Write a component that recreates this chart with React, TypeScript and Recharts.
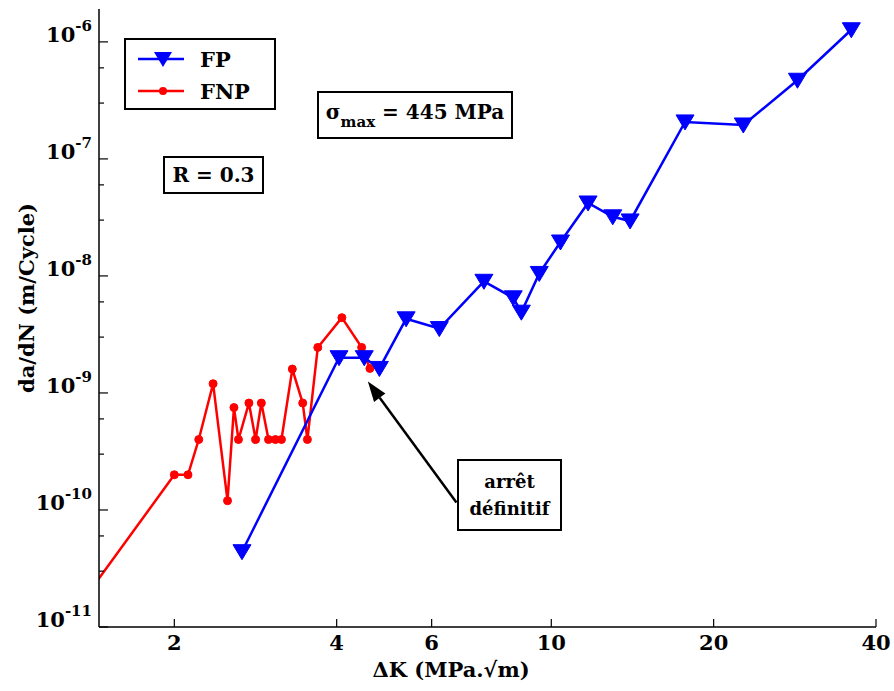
import React from 'react';
import { LineChart, Line, XAxis, YAxis, ReferenceLine } from 'recharts';

// FP series (blue, down triangles)
const fpK = [2.67, 4.04, 4.5, 4.8, 5.38, 6.2, 7.5, 8.5, 8.8, 9.5, 10.4, 11.7, 13.0, 14.0, 17.7, 22.7, 28.6, 36.0];
const fpRate = [4.4e-11, 2.0e-9, 2.0e-9, 1.62e-9, 4.3e-9, 3.55e-9, 9.0e-9, 6.5e-9, 4.9e-9, 1.05e-8, 1.95e-8, 4.2e-8, 3.2e-8, 2.95e-8, 2.07e-7, 1.95e-7, 4.7e-7, 1.27e-6];

// FNP series (red, dots) - first point lies just left of the visible range
const fnpK = [1.35, 2.0, 2.12, 2.22, 2.36, 2.51, 2.58, 2.63, 2.75, 2.83, 2.9, 2.99, 3.08, 3.16, 3.31, 3.46, 3.53, 3.69, 4.09, 4.45, 4.61];
const fnpRate = [1.65e-11, 2.0e-10, 2.0e-10, 4.0e-10, 1.2e-9, 1.2e-10, 7.5e-10, 4.0e-10, 8.2e-10, 4.0e-10, 8.2e-10, 4.0e-10, 4.0e-10, 4.0e-10, 1.6e-9, 8.2e-10, 4.0e-10, 2.45e-9, 4.4e-9, 2.45e-9, 1.62e-9];

const xTicks = [2, 4, 6, 10, 20, 40];
const yDecades = [-11, -10, -9, -8, -7, -6];
const xDomain = [1.45, 40];
const yDomain = [1e-11, 1.91e-6];

// annotation arrow: tail -> tip (data coords)
const arrowTail = { k: 6.67, r: 1.16e-10 };
const arrowTip = { k: 4.57, r: 1.25e-9 };

const fpData = fpK.map((x, i) => ({ x, y: fpRate[i] }));
const fnpData = fnpK.map((x, i) => ({ x, y: fnpRate[i] }));

const yTicks: number[] = [];
yDecades.forEach((d) => {
  for (let m = 1; m <= 9; m++) {
    const v = Number((m * Math.pow(10, d)).toPrecision(3));
    if (v <= yDomain[1]) yTicks.push(v);
  }
});

const W = 894;
const H = 691;
const PLOT = { left: 99, right: 876, top: 9, bottom: 627 };
const FONT = 'DejaVu Serif';
const FW = 'bold';

const isMajor = (v: number) => Math.abs(Math.log10(v) - Math.round(Math.log10(v))) < 1e-6;

const BottomTick = (props: any) => {
  const x = props.x;
  return (
    <g>
      <line x1={x} x2={x} y1={PLOT.bottom} y2={PLOT.bottom - 8} stroke="#000" strokeWidth={1.2} />
      <text x={x} y={PLOT.bottom + 23} textAnchor="middle" fontFamily={FONT} fontSize={21} fontWeight={FW} fill="#000">
        {props.payload.value}
      </text>
    </g>
  );
};

const TopTick = (props: any) => {
  const x = props.x;
  return <line x1={x} x2={x} y1={PLOT.top} y2={PLOT.top + 8} stroke="#000" strokeWidth={1.2} />;
};

const LeftTick = (props: any) => {
  const y = props.y;
  const v = props.payload.value;
  const major = isMajor(v);
  return (
    <g>
      <line x1={PLOT.left} x2={PLOT.left + (major ? 9 : 5)} y1={y} y2={y} stroke="#000" strokeWidth={1.2} />
      {major && (
        <text x={92} y={y} textAnchor="end" fontFamily={FONT} fontSize={21} fontWeight={FW} fill="#000">
          <tspan>10</tspan>
          <tspan dy={-11} fontSize={15}>{String(Math.round(Math.log10(v)))}</tspan>
        </text>
      )}
    </g>
  );
};

const RightTick = (props: any) => {
  const y = props.y;
  const major = isMajor(props.payload.value);
  return <line x1={PLOT.right} x2={PLOT.right - (major ? 9 : 5)} y1={y} y2={y} stroke="#000" strokeWidth={1.2} />;
};

const Triangle = (props: any) => {
  const { cx, cy } = props;
  if (cx == null || cy == null) return null;
  return <polygon points={`${cx - 9},${cy - 7} ${cx + 9},${cy - 7} ${cx},${cy + 8}`} fill="#0000ff" stroke="#0000ff" strokeWidth={1} />;
};

const Dot = (props: any) => {
  const { cx, cy } = props;
  if (cx == null || cy == null || cx < PLOT.left) return null;
  return <circle cx={cx} cy={cy} r={4} fill="#ff0000" stroke="#ff0000" />;
};

const Arrow = (props: any) => {
  const { x1, y1, x2, y2 } = props;
  if (x1 == null) return null;
  const ang = Math.atan2(y2 - y1, x2 - x1);
  const len = 20;
  const half = 7;
  const bx = x2 - len * Math.cos(ang);
  const by = y2 - len * Math.sin(ang);
  const px = -Math.sin(ang) * half;
  const py = Math.cos(ang) * half;
  return (
    <g>
      <line x1={x1} y1={y1} x2={bx} y2={by} stroke="#000" strokeWidth={2.5} />
      <polygon points={`${x2},${y2} ${bx + px},${by + py} ${bx - px},${by - py}`} fill="#000" />
    </g>
  );
};

const boxStyle: React.CSSProperties = {
  position: 'absolute',
  border: '2px solid #000',
  background: '#fff',
  fontFamily: FONT,
  fontWeight: FW,
  color: '#000',
  boxSizing: 'border-box',
  display: 'flex',
  alignItems: 'center',
  justifyContent: 'center',
};

export default function App() {
  return (
    <div style={{ position: 'absolute', left: 0, top: 0, width: W, height: H, background: '#fff' }}>
      <LineChart width={W} height={H} margin={{ top: PLOT.top, right: W - PLOT.right, bottom: 0, left: 0 }}>
        <XAxis
          xAxisId="b"
          dataKey="x"
          type="number"
          scale="log"
          domain={xDomain}
          allowDataOverflow
          ticks={xTicks}
          tick={<BottomTick />}
          tickLine={false}
          axisLine={{ stroke: '#000', strokeWidth: 1.5 }}
          height={H - PLOT.bottom}
        />
        <XAxis
          xAxisId="t"
          orientation="top"
          dataKey="x"
          type="number"
          scale="log"
          domain={xDomain}
          allowDataOverflow
          ticks={xTicks}
          tick={<TopTick />}
          tickLine={false}
          axisLine={{ stroke: '#000', strokeWidth: 1.5 }}
          height={0}
        />
        <YAxis
          yAxisId="l"
          type="number"
          scale="log"
          domain={yDomain}
          allowDataOverflow
          ticks={yTicks}
          tick={<LeftTick />}
          tickLine={false}
          axisLine={{ stroke: '#000', strokeWidth: 1.5 }}
          width={PLOT.left}
        />
        <YAxis
          yAxisId="r"
          orientation="right"
          type="number"
          scale="log"
          domain={yDomain}
          allowDataOverflow
          ticks={yTicks}
          tick={<RightTick />}
          tickLine={false}
          axisLine={{ stroke: '#000', strokeWidth: 1.5 }}
          width={0}
        />
        <Line
          xAxisId="b"
          yAxisId="l"
          data={fnpData}
          dataKey="y"
          stroke="#ff0000"
          strokeWidth={2.5}
          dot={<Dot />}
          isAnimationActive={false}
        />
        <Line
          xAxisId="b"
          yAxisId="l"
          data={fpData}
          dataKey="y"
          stroke="#0000ff"
          strokeWidth={2.5}
          dot={<Triangle />}
          isAnimationActive={false}
        />
        <ReferenceLine
          xAxisId="b"
          yAxisId="l"
          segment={[
            { x: arrowTail.k, y: arrowTail.r },
            { x: arrowTip.k, y: arrowTip.r },
          ]}
          shape={<Arrow />}
        />
      </LineChart>

      {/* legend */}
      <div style={{ ...boxStyle, left: 124, top: 38, width: 152, height: 72, display: 'block' }}>
        <svg width={148} height={68} style={{ position: 'absolute', left: 0, top: 0 }}>
          <line x1={12} x2={58} y1={19} y2={19} stroke="#0000ff" strokeWidth={2.5} />
          <polygon points="28,12 46,12 37,27" fill="#0000ff" />
          <text x={74} y={27} fontFamily={FONT} fontSize={21} fontWeight={FW}>FP</text>
          <line x1={12} x2={58} y1={51} y2={51} stroke="#ff0000" strokeWidth={2.5} />
          <circle cx={37} cy={51} r={4} fill="#ff0000" />
          <text x={74} y={59} fontFamily={FONT} fontSize={21} fontWeight={FW}>FNP</text>
        </svg>
      </div>

      <div style={{ ...boxStyle, left: 163, top: 156, width: 101, height: 38, fontSize: 20 }}>R = 0.3</div>

      <div style={{ ...boxStyle, left: 317, top: 91, width: 196, height: 48, fontSize: 20 }}>
        <span>
          σ<sub style={{ fontSize: 15, verticalAlign: -8 }}>max</sub> = 445 MPa
        </span>
      </div>

      <div
        style={{
          ...boxStyle,
          left: 457,
          top: 459,
          width: 105,
          height: 72,
          fontSize: 18,
          flexDirection: 'column',
          lineHeight: '27px',
        }}
      >
        <span>arrêt</span>
        <span>définitif</span>
      </div>

      <div
        style={{
          position: 'absolute',
          left: 341,
          top: 655,
          width: 220,
          textAlign: 'center',
          fontFamily: FONT,
          fontWeight: FW,
          fontSize: 21,
          lineHeight: '30px',
        }}
      >
        ΔK (MPa.√m)
      </div>

      <div
        style={{
          position: 'absolute',
          left: 26,
          top: 298,
          transform: 'translate(-50%, -50%) rotate(-90deg)',
          whiteSpace: 'nowrap',
          fontFamily: FONT,
          fontWeight: FW,
          fontSize: 21,
        }}
      >
        da/dN (m/Cycle)
      </div>
    </div>
  );
}
